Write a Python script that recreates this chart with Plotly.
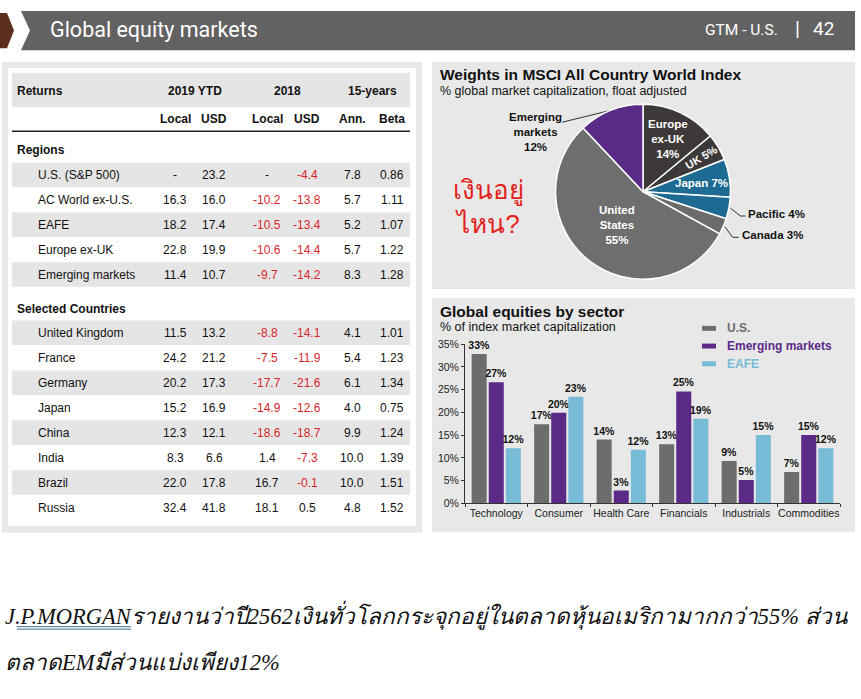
import math
import plotly.graph_objects as go

W, H = 861, 699

# ---------------- data ----------------
table_groups = ["2019 YTD", "2018", "15-years"]
table_subheads = ["Local", "USD", "Local", "USD", "Ann.", "Beta"]

region_names = ["U.S. (S&P 500)", "AC World ex-U.S.", "EAFE", "Europe ex-UK", "Emerging markets"]
region_local_2019 = [None, 16.3, 18.2, 22.8, 11.4]
region_usd_2019 = [23.2, 16.0, 17.4, 19.9, 10.7]
region_local_2018 = [None, -10.2, -10.5, -10.6, -9.7]
region_usd_2018 = [-4.4, -13.8, -13.4, -14.4, -14.2]
region_ann_15y = [7.8, 5.7, 5.2, 5.7, 8.3]
region_beta_15y = [0.86, 1.11, 1.07, 1.22, 1.28]

country_names = ["United Kingdom", "France", "Germany", "Japan", "China", "India", "Brazil", "Russia"]
country_local_2019 = [11.5, 24.2, 20.2, 15.2, 12.3, 8.3, 22.0, 32.4]
country_usd_2019 = [13.2, 21.2, 17.3, 16.9, 12.1, 6.6, 17.8, 41.8]
country_local_2018 = [-8.8, -7.5, -17.7, -14.9, -18.6, 1.4, 16.7, 18.1]
country_usd_2018 = [-14.1, -11.9, -21.6, -12.6, -18.7, -7.3, -0.1, 0.5]
country_ann_15y = [4.1, 5.4, 6.1, 4.0, 9.9, 10.0, 10.0, 4.8]
country_beta_15y = [1.01, 1.23, 1.34, 0.75, 1.24, 1.39, 1.51, 1.52]

pie_labels = ["Europe ex-UK", "UK", "Japan", "Pacific", "Canada", "United States", "Emerging markets"]
pie_display = ["Europe<br>ex-UK", "UK", "Japan", "Pacific", "Canada", "United<br>States", "Emerging<br>markets"]
pie_values = [14, 5, 7, 4, 3, 55, 12]

sectors = ["Technology", "Consumer", "Health Care", "Financials", "Industrials", "Commodities"]
us_weights = [32.8, 17.4, 14.0, 13.0, 9.3, 6.9]
em_weights = [26.6, 19.9, 2.8, 24.6, 5.1, 15.0]
eafe_weights = [12.1, 23.4, 11.8, 18.6, 15.0, 12.1]
bar_series = ["U.S.", "Emerging markets", "EAFE"]
y_ticks = [0, 5, 10, 15, 20, 25, 30, 35]

# ---------------- styles ----------------
SANS = "Liberation Sans, Arial, sans-serif"
C_US, C_EM, C_EAFE = "#6d6d6d", "#5b2a87", "#78bbd7"
RED = "#d7262b"
PANEL = "#e8e8e8"
BAND = "#e5e5e5"


def rect(x0, y0, x1, y1, color, layer="below"):
    return dict(type="rect", xref="paper", yref="paper", x0=x0 / W, x1=x1 / W,
                y0=1 - y1 / H, y1=1 - y0 / H, fillcolor=color, line_width=0, layer=layer)


def poly(pts, color):
    s = "M " + " L ".join(f"{x / W:.5f},{1 - y / H:.5f}" for x, y in pts) + " Z"
    return dict(type="path", xref="paper", yref="paper", path=s, fillcolor=color,
                line_width=0, layer="below")


shapes, annotations = [], []


def txt(x, y, text, size=12, color="#111", anchor="left", bold=False, family=SANS, **kw):
    annotations.append(dict(xref="x2", yref="y2", x=x, y=y, text=text, showarrow=False,
                            xanchor=anchor, yanchor="middle",
                            font=dict(size=size, color=color, family=family,
                                      weight="bold" if bold else "normal"), **kw))


fig = go.Figure()

# ---------------- header bar ----------------
shapes.append(poly([(21, 5), (855, 5), (855, 45), (21, 45), (30, 25)], "#626262"))
shapes.append(poly([(0, 7), (7, 7), (14, 25), (7, 43), (0, 43)], "#5a2f1c"))
txt(48, 24, "Global equity markets", size=21.5, color="white", family="Roboto")
txt(780, 24, "GTM - U.S.", size=15.5, color="white", family="Roboto", anchor="right")
txt(797, 23, "|", size=20, color="white", family="Roboto", anchor="center")
txt(836, 23, "42", size=19, color="white", family="Roboto", anchor="right")

# ---------------- table panel ----------------
shapes.append(rect(2, 57, 422, 536, PANEL))
shapes.append(rect(8, 63, 416, 529, "white"))
shapes.append(rect(12, 68, 410, 103, BAND))
shapes.append(dict(type="line", xref="paper", yref="paper", x0=12 / W, x1=410 / W,
                   y0=1 - 127.5 / H, y1=1 - 127.5 / H, line=dict(color="#222", width=1.5)))

col_x = [175, 214, 267, 307, 352, 392]
txt(15, 86, "Returns", bold=True)
for g, name in enumerate(table_groups):
    txt((col_x[2 * g] + col_x[2 * g + 1]) / 2, 86, name, bold=True, anchor="center")
for c, name in enumerate(table_subheads):
    txt(col_x[c], 115, name, bold=True, anchor="center")


def fmt(v, nd=1):
    if v is None:
        return "-", "#111"
    s = f"{v:.{nd}f}"
    return s, (RED if v < 0 else "#111")


def draw_rows(y0, step, names, cols):
    for i, name in enumerate(names):
        y = y0 + i * step
        if i % 2 == 0:
            shapes.append(rect(12, y - 12.5, 410, y + 12.5, BAND))
        txt(36, y, name)
        for c, arr in enumerate(cols):
            s, col = fmt(arr[i], 2 if c == 5 else 1)
            txt(col_x[c], y, s, color=col, anchor="center")


txt(15, 147, "Regions", bold=True)
draw_rows(172, 25.3, region_names,
          [region_local_2019, region_usd_2019, region_local_2018, region_usd_2018,
           region_ann_15y, region_beta_15y])
txt(15, 308, "Selected Countries", bold=True)
draw_rows(332.5, 25.4, country_names,
          [country_local_2019, country_usd_2019, country_local_2018, country_usd_2018,
           country_ann_15y, country_beta_15y])

# ---------------- pie panel ----------------
shapes.append(rect(432, 57, 855, 288, PANEL))
txt(438, 70, "Weights in MSCI All Country World Index", size=15.5, bold=True)
txt(438, 86, "% global market capitalization, float adjusted", size=12.5)

cx, cy, R = 643, 189, 89
pie_colors = ["#3e3939", "#3e3939", "#1d6a93", "#1d6a93", "#6b6b6b", "#6e6e6e", "#5a2b86"]
fig.add_trace(go.Pie(labels=pie_labels, values=pie_values, sort=False, direction="clockwise",
                     rotation=0, textinfo="none", hoverinfo="label+percent",
                     marker=dict(colors=pie_colors, line=dict(color="white", width=1.5)),
                     domain=dict(x=[(cx - R) / W, (cx + R) / W],
                                 y=[1 - (cy + R) / H, 1 - (cy - R) / H]),
                     showlegend=False))

total = sum(pie_values)
cum = 0
mids = []
for v in pie_values:
    mids.append((cum + v / 2) / total * 2 * math.pi)
    cum += v

inside = {0: 0.67, 1: 0.77, 2: 0.66, 5: 0.48}
for i, frac in inside.items():
    a = mids[i]
    x, y = cx + frac * R * math.sin(a), cy - frac * R * math.cos(a)
    if "<br>" in pie_display[i]:
        label = f"{pie_display[i]}<br>{pie_values[i]}%"
    else:
        label = f"{pie_display[i]} {pie_values[i]}%"
    ang = -(90 - math.degrees(a)) if i == 1 else 0
    txt(x, y, label, size=11.5 if i != 1 else 11, color="white", bold=True, anchor="center",
        textangle=ang)

outside = {
    6: [(-48, 12)],
    3: [(10, 8), (15, 8)],
    4: [(8, 11), (14, 11)],
}
for i, elbows in outside.items():
    a = mids[i]
    ex, ey = cx + R * math.sin(a), cy - R * math.cos(a)
    xs, ys = [ex], [ey]
    for dx, dy in elbows:
        xs.append(ex + dx)
        ys.append(ey + dy)
    fig.add_trace(go.Scatter(x=xs, y=ys, xaxis="x2", yaxis="y2", mode="lines",
                             line=dict(color="#333", width=1), hoverinfo="skip", showlegend=False))
    if i == 6:
        label = f"{pie_display[i]}<br>{pie_values[i]}%"
        txt(xs[-1] - 27, ys[-1] + 10, label, size=11.5, bold=True, anchor="center")
    else:
        label = f"{pie_display[i]} {pie_values[i]}%"
        txt(xs[-1] + 1, ys[-1] - 2, label, size=11.5, bold=True, anchor="left")

txt(488, 204, "เงินอยู่<br>ไหน?", size=26, color="#e3221c", anchor="center")

# ---------------- bar panel ----------------
shapes.append(rect(432, 297, 855, 535, PANEL))
txt(438, 311, "Global equities by sector", size=15.5, bold=True)
txt(438, 327, "% of index market capitalization", size=12.5)

for idx, (name, vals, col) in enumerate(zip(bar_series, [us_weights, em_weights, eafe_weights],
                                            [C_US, C_EM, C_EAFE])):
    fig.add_trace(go.Bar(x=sectors, y=vals, name=name, marker=dict(color=col, line_width=0),
                         texttemplate="%{y:.0f}%", textposition="outside", cliponaxis=False,
                         constraintext="none",
                         textfont=dict(size=10.5, color="#111", family=SANS, weight="bold"),
                         showlegend=False))
    ly = 328 + idx * 18
    shapes.append(dict(type="rect", xref="x2", yref="y2", x0=702, x1=716, y0=ly - 2.5, y1=ly + 2.5,
                       fillcolor=col, line_width=0, layer="above"))
    txt(725, ly, name, size=12, color=col, bold=True)

# ---------------- bottom Thai text ----------------
THAI = "Liberation Serif, serif"
for y, line in [(620, "J.P.MORGANรายงานว่าปี2562เงินทั่วโลกกระจุกอยู่ในตลาดหุ้นอเมริกามากกว่า55% ส่วน"),
                (668, "ตลาดEMมีส่วนแบ่งเพียง12%")]:
    annotations.append(dict(xref="x2", yref="y2", x=3, y=y, xanchor="left", yanchor="middle",
                            showarrow=False, text=line,
                            font=dict(size=22.5, family=THAI, color="#111", style="italic")))
# spell-check style double underline under "P.MORGAN"
for uy in (631.5, 634):
    shapes.append(dict(type="line", xref="x2", yref="y2", x0=17, x1=131, y0=uy, y1=uy,
                       line=dict(color="#3d6f8e", width=1), layer="above"))

fig.update_layout(
    width=W, height=H, margin=dict(l=0, r=0, t=0, b=0), autosize=False,
    paper_bgcolor="white", plot_bgcolor="rgba(0,0,0,0)",
    barmode="group", bargap=0.18, bargroupgap=0.12,
    shapes=shapes, annotations=annotations,
    xaxis=dict(domain=[465 / W, 840 / W], anchor="y", showline=True, linecolor="#333",
               ticks="outside", tickson="boundaries", ticklen=3, tickcolor="#333", tickangle=0,
               tickfont=dict(size=10.5, family=SANS, color="#222"), fixedrange=True),
    yaxis=dict(domain=[1 - 506 / H, 1 - 344 / H], anchor="x", range=[0, 35],
               tickmode="array", tickvals=y_ticks, ticktext=[f"{v}%" for v in y_ticks],
               showline=True, linecolor="#333", ticks="outside", ticklen=3, tickcolor="#333",
               showgrid=False, zeroline=False,
               tickfont=dict(size=10.5, family=SANS, color="#222"), fixedrange=True),
    xaxis2=dict(domain=[0, 1], range=[0, W], visible=False, anchor="y2", fixedrange=True),
    yaxis2=dict(domain=[0, 1], range=[H, 0], visible=False, anchor="x2", fixedrange=True),
    font=dict(family=SANS),
)

fig.write_html("out.html", config={"responsive": False, "displayModeBar": False},
               post_script="document.body.style.margin='0';document.body.style.overflow='hidden';")
